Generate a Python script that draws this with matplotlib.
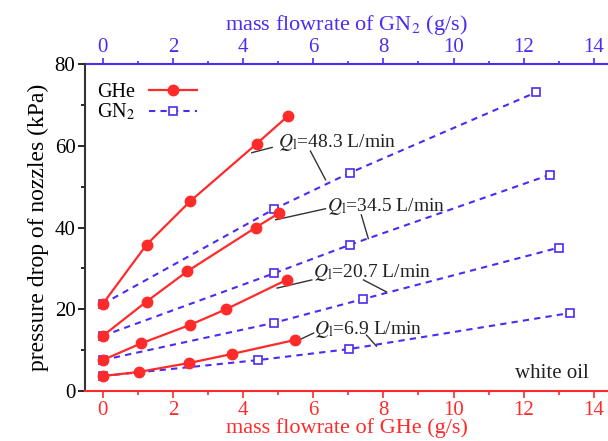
import numpy as np
import matplotlib
matplotlib.use("Agg")
import matplotlib.pyplot as plt
from matplotlib.ticker import MultipleLocator

plt.rcParams['font.family'] = ['Liberation Serif', 'DejaVu Serif']
plt.rcParams['mathtext.fontset'] = 'stix'

RED = '#ff2a2a'
BLUE = '#4a2cf2'

# GHe (red, bottom axis) -- flowrate in g/s, pressure drop in kPa
ghe_x = [
    [0, 1.03, 2.47, 3.69, 5.47],   # Ql = 6.9
    [0, 1.10, 2.49, 3.51, 5.24],   # Ql = 20.7
    [0, 1.25, 2.41, 4.36, 5.02],   # Ql = 34.5
    [0, 1.25, 2.49, 4.39, 5.27],   # Ql = 48.3
]
ghe_y = [
    [3.7, 4.7, 6.9, 9.1, 12.5],
    [7.6, 11.7, 16.2, 20.0, 27.2],
    [13.5, 21.9, 29.3, 40.0, 43.5],
    [21.3, 35.8, 46.4, 60.5, 67.2],
]

# GN2 (blue, top axis)
gn2_x = [
    [0, 4.43, 7.03, 13.31],
    [0, 4.88, 7.41, 13.00],
    [0, 4.88, 7.05, 12.74],
    [0, 4.88, 7.05, 12.36],
]
gn2_y = [
    [3.7, 7.6, 10.3, 19.1],
    [7.6, 16.7, 22.5, 35.1],
    [13.5, 28.8, 35.8, 52.9],
    [21.3, 44.5, 53.4, 73.1],
]

ql_labels = ['6.9', '20.7', '34.5', '48.3']
# text anchor and two leader lines (to GHe curve, to GN2 curve)
label_pos = [(6.03, 15.0), (5.98, 28.9), (6.38, 45.2), (5.0, 60.8)]
lead_red = [((6.01, 14.2), (5.59, 12.5)), ((5.96, 27.2), (4.97, 25.2)),
            ((6.35, 44.6), (4.93, 41.9)), ((4.83, 59.6), (4.25, 58.3))]
lead_blue = [((7.52, 13.7), (7.80, 11.0)), ((7.43, 27.2), (8.08, 24.3)),
             ((7.37, 43.1), (7.57, 37.3)), ((5.92, 58.7), (6.35, 51.7))]

fig = plt.figure(figsize=(6.08, 4.41), dpi=100)
ax = fig.add_axes([0.14, 0.113, 0.86, 0.742])

for i in range(4):
    lb, = ax.plot(gn2_x[i], gn2_y[i], color=BLUE, lw=1.5, dashes=(3, 2.5),
                  marker='s', ms=6, mfc='white', mec=BLUE, mew=1.2, zorder=2)
    lr, = ax.plot(ghe_x[i], ghe_y[i], color=RED, lw=1.6,
                  marker='o', ms=7.5, mfc=RED, mec=RED, zorder=3)
    (x0, y0), (x1, y1) = lead_red[i]
    ax.plot([x0, x1], [y0, y1], color='#333333', lw=1)
    (x0, y0), (x1, y1) = lead_blue[i]
    ax.plot([x0, x1], [y0, y1], color='#333333', lw=1)
    ax.text(label_pos[i][0], label_pos[i][1],
            r'$Q_{\mathrm{l}}$=' + ql_labels[i] + ' L/min',
            fontsize=14, ha='left', va='center', color='#222222')

ax.text(13.85, 4.3, 'white oil', fontsize=15, ha='right', va='center', color='#222222')

ax.legend([lr, lb], ['GHe', 'GN$_2$'], loc='upper left', bbox_to_anchor=(-0.005, 0.985),
          frameon=False, markerfirst=False, fontsize=14.5, handlelength=2.4,
          handletextpad=0.7, labelspacing=0.0, borderaxespad=0.3)

ax.set_xlim(-0.5, 14.4)
ax.set_ylim(0, 80)
ax.xaxis.set_major_locator(MultipleLocator(2))
ax.xaxis.set_minor_locator(MultipleLocator(1))
ax.yaxis.set_major_locator(MultipleLocator(20))
ax.yaxis.set_minor_locator(MultipleLocator(10))
ax.tick_params(axis='x', colors=RED, labelsize=15, length=5, width=1.2, pad=2)
ax.tick_params(axis='x', which='minor', colors=RED, length=3, width=1.2)
ax.tick_params(axis='y', labelsize=15, length=5, width=1.2, pad=2)
ax.tick_params(axis='y', which='minor', length=3, width=1.2)
ax.spines['right'].set_visible(False)
ax.spines['top'].set_visible(False)
ax.spines['bottom'].set_color(RED)
ax.spines['bottom'].set_linewidth(1.5)
ax.spines['left'].set_color('#333333')
ax.spines['left'].set_linewidth(1.5)
ax.set_xlabel('mass flowrate of GHe (g/s)', color=RED, fontsize=16, labelpad=-1)
ax.set_ylabel('pressure drop of nozzles (kPa)', fontsize=17, labelpad=4)

top = ax.secondary_xaxis('top')
top.xaxis.set_major_locator(MultipleLocator(2))
top.xaxis.set_minor_locator(MultipleLocator(1))
top.tick_params(axis='x', colors=BLUE, labelsize=15, length=4, width=1.2, pad=1)
top.tick_params(axis='x', which='minor', colors=BLUE, length=2.5, width=1.2)
top.spines['top'].set_color(BLUE)
top.spines['top'].set_linewidth(1.5)
top.set_xlabel('mass flowrate of GN$_2$ (g/s)', color=BLUE, fontsize=16, labelpad=6)

fig.savefig('out.png', dpi=100)
